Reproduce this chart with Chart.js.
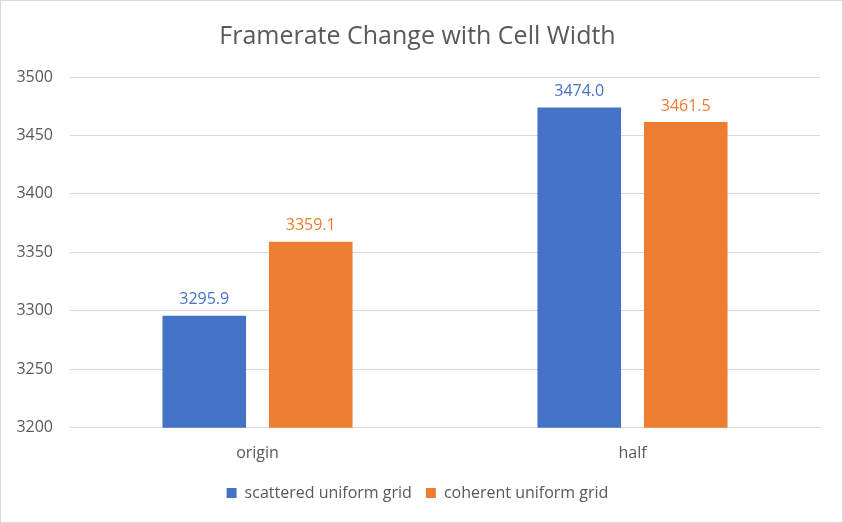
<!DOCTYPE html>
<html>
<head>
<meta charset="utf-8">
<script src="https://cdn.jsdelivr.net/npm/chart.js@4"></script>
<style>
  html, body { margin: 0; padding: 0; background: #fff; }
  #wrap { width: 841px; height: 521px; border: 1px solid #d9d9d9; }
</style>
</head>
<body>
<div id="wrap"><canvas id="myChart" width="841" height="521"></canvas></div>
<script>
const categories = ['origin', 'half']
const scattered = [3295.9, 3474.0]
const coherent = [3359.1, 3461.5]
const seriesNames = ['scattered uniform grid', 'coherent uniform grid']
const yTicks = [3200, 3250, 3300, 3350, 3400, 3450, 3500]

const textColor = '#595959'
const fontFamily = "'Open Sans', 'Liberation Sans', sans-serif"

// value labels above each bar, in the series colour
const valueLabels = {
  id: 'valueLabels',
  afterDatasetsDraw(chart) {
    const c = chart.ctx
    c.save()
    c.font = '16px ' + fontFamily
    c.textAlign = 'center'
    c.textBaseline = 'bottom'
    chart.data.datasets.forEach((ds, i) => {
      chart.getDatasetMeta(i).data.forEach((bar, j) => {
        c.fillStyle = ds.backgroundColor
        c.fillText(ds.data[j].toFixed(1), bar.x, bar.y - 8)
      })
    })
    c.restore()
  }
}

let ctx = document.getElementById('myChart')

let myChart = new Chart(ctx, {
  type: 'bar',
  data: {
    labels: categories,
    datasets: [{
      label: seriesNames[0],
      data: scattered,
      backgroundColor: '#4472c4',
    }, {
      label: seriesNames[1],
      data: coherent,
      backgroundColor: '#ed7d31',
    }]
  },
  options: {
    responsive: false,
    animation: false,
    categoryPercentage: 0.568,
    barPercentage: 0.785,
    layout: { padding: { left: 14, right: 22, top: 10, bottom: 11 } },
    plugins: {
      title: {
        display: true,
        text: 'Framerate Change with Cell Width',
        color: textColor,
        font: { family: fontFamily, size: 25, weight: 'normal' },
        padding: { top: 11, bottom: 25 }
      },
      legend: {
        position: 'bottom',
        labels: {
          color: textColor,
          font: { family: fontFamily, size: 16 },
          boxWidth: 10,
          boxHeight: 10,
          padding: 14
        }
      },
      tooltip: { enabled: false }
    },
    scales: {
      x: {
        grid: { display: false },
        border: { color: '#d9d9d9' },
        ticks: { color: textColor, font: { family: fontFamily, size: 16 }, padding: 8 }
      },
      y: {
        min: 3200,
        max: 3500,
        afterBuildTicks: axis => { axis.ticks = yTicks.map(v => ({ value: v })) },
        afterFit: axis => { axis.width = 55 },
        grid: { color: '#d9d9d9', drawTicks: false },
        border: { display: false },
        ticks: {
          color: textColor,
          font: { family: fontFamily, size: 16 },
          padding: 17,
          callback: v => String(v)
        }
      }
    }
  },
  plugins: [valueLabels]
})
</script>
</body>
</html>
